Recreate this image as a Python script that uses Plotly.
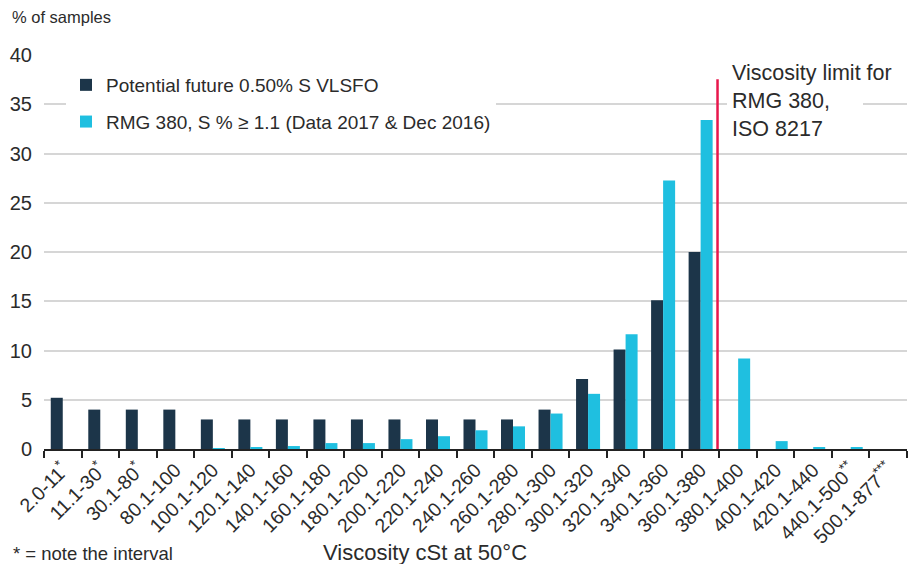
import plotly.graph_objects as go

categories = ["2.0-11<sup>*</sup>", "11.1-30<sup>*</sup>", "30.1-80<sup>*</sup>", "80.1-100",
              "100.1-120", "120.1-140", "140.1-160", "160.1-180", "180.1-200", "200.1-220",
              "220.1-240", "240.1-260", "260.1-280", "280.1-300", "300.1-320", "320.1-340",
              "340.1-360", "360.1-380", "380.1-400", "400.1-420", "420.1-440",
              "440.1-500<sup>**</sup>", "500.1-877<sup>***</sup>"]
vlsfo = [5.2, 4.0, 4.0, 4.0, 3.0, 3.0, 3.0, 3.0, 3.0, 3.0, 3.0, 3.0, 3.0, 4.0, 7.1,
         10.1, 15.1, 20.0, 0, 0, 0, 0, 0]
rmg380 = [0, 0, 0, 0, 0.05, 0.2, 0.3, 0.6, 0.6, 1.0, 1.3, 1.9, 2.3, 3.6, 5.6,
          11.65, 27.25, 33.4, 9.2, 0.8, 0.15, 0.15, 0]
series_names = ["Potential future 0.50% S VLSFO", "RMG 380, S % \u2265 1.1 (Data 2017 & Dec 2016)"]
limit_x = 17.45
limit_top = 37.55
limit_label = "Viscosity limit for<br>RMG 380,<br>ISO 8217"

DARK = "#1c3549"
CYAN = "#1fbfe0"
RED = "#e8174c"
TXT = "#2b2b2b"
FONT = "Arial, Liberation Sans, Helvetica, sans-serif"

fig = go.Figure()
fig.add_trace(go.Bar(x=categories, y=vlsfo, name=series_names[0], marker_color=DARK,
                     marker_line_width=0, legendgroup="a"))
fig.add_trace(go.Bar(x=categories, y=rmg380, name=series_names[1], marker_color=CYAN,
                     marker_line_width=0, legendgroup="b"))

# viscosity limit line
fig.add_shape(type="line", xref="x", yref="y", x0=limit_x, x1=limit_x, y0=0, y1=limit_top,
              line=dict(color=RED, width=2.5), layer="above")
# white gap behind label middle line
fig.add_shape(type="rect", xref="paper", yref="y", x0=(727 - 44) / 863, x1=(863 - 44) / 863,
              y0=34.6, y1=35.4, fillcolor="white", line_width=0, layer="above")
fig.add_annotation(text=limit_label, xref="paper", yref="paper", x=(730 - 44) / 863,
                   y=(449 - 59.5) / 394, xanchor="left", yanchor="top", align="left",
                   showarrow=False, font=dict(size=21.5, color=TXT, family=FONT))

fig.add_annotation(text="% of samples", xref="paper", yref="paper", x=(10 - 44) / 863,
                   y=(449 - 17) / 394, xanchor="left", yanchor="middle", showarrow=False,
                   font=dict(size=16.5, color=TXT, family=FONT))
fig.add_annotation(text="Viscosity cSt at 50\u00b0C", xref="paper", yref="paper",
                   x=(425 - 44) / 863, y=(449 - 552) / 394, xanchor="center", yanchor="middle",
                   showarrow=False, font=dict(size=22, color=TXT, family=FONT))
fig.add_annotation(text="* = note the interval", xref="paper", yref="paper",
                   x=(11 - 44) / 863, y=(449 - 553) / 394, xanchor="left", yanchor="middle",
                   showarrow=False, font=dict(size=18.5, color=TXT, family=FONT))

fig.update_layout(
    width=920, height=564,
    margin=dict(l=44, r=13, t=55, b=115, autoexpand=False),
    paper_bgcolor="white", plot_bgcolor="white",
    font=dict(family=FONT, color=TXT),
    barmode="group", bargap=0.36, bargroupgap=0,
    showlegend=True,
    legend=dict(x=(66 - 44) / 863, y=(449 - 66) / 394, xanchor="left", yanchor="top",
                bgcolor="white", font=dict(size=19, color=TXT, family=FONT),
                traceorder="grouped", tracegroupgap=9, borderwidth=0),
)
fig.update_xaxes(
    type="category", range=[-0.5, len(categories) - 0.5], automargin=False,
    showline=True, linecolor="#222", linewidth=2,
    ticks="outside", tickson="boundaries", ticklen=7, tickwidth=2, tickcolor="#222",
    tickangle=-45, tickfont=dict(size=19.5, color=TXT, family=FONT),
    showgrid=False, fixedrange=True,
)
fig.update_yaxes(
    range=[0, 40], dtick=5, showline=False, zeroline=False, automargin=False,
    showgrid=True, gridcolor="#d6d6d6", gridwidth=1.5,
    tickfont=dict(size=20, color=TXT, family=FONT), ticks="", ticklabelstandoff=11,
)

fig.write_html("out.html", post_script="document.body.style.margin='0px';",
               config={"displayModeBar": False})
